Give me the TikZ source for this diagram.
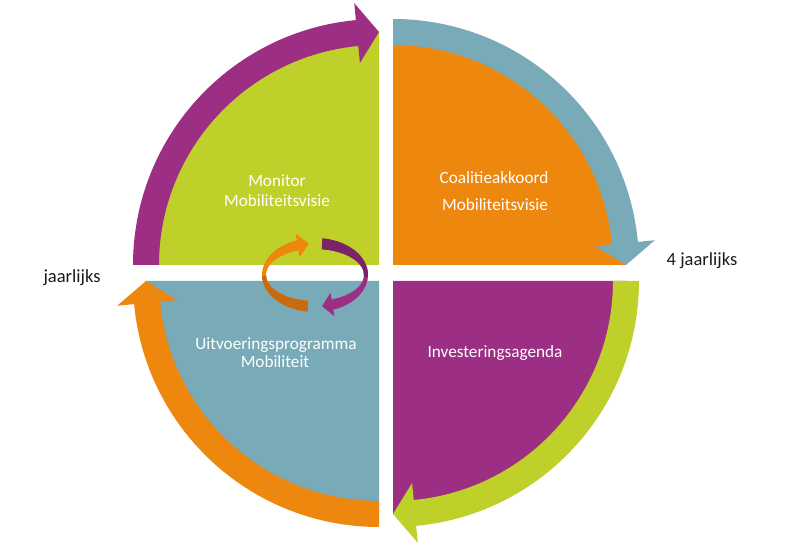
\documentclass[tikz,border=0pt]{standalone}
\usepackage{fontspec}
\setmainfont{Carlito}
\usetikzlibrary{calc}
\definecolor{cgreen}{HTML}{C0D02B}
\definecolor{corange}{HTML}{EE870E}
\definecolor{cteal}{HTML}{78AAB8}
\definecolor{cpurple}{HTML}{9C2E84}
\definecolor{cdorange}{HTML}{C66B10}
\definecolor{cdpurple}{HTML}{7A2468}
\definecolor{ctext}{HTML}{1A1A1A}
% ring arrow: #1 centre, #2 start angle, #3 head base angle, #4 tip angle, #5 colour
\newcommand{\ringarrow}[5]{%
  \fill[#5] ($(#1)+(#2:246)$) arc[start angle=#2,end angle=#3,radius=246]
    -- ($(#1)+(#3:263)$) -- ($(#1)+(#4:233)$) -- ($(#1)+(#3:203)$)
    -- ($(#1)+(#3:220)$) arc[start angle=#3,end angle=#2,radius=220] -- cycle;}
% small elliptic arrow: #1 centre, #2 start, #3 head base, #4 tip, #5 colour
\newcommand{\ellarrow}[5]{%
  \fill[#5] ($(#1)+(#2:53 and 37)$) arc[start angle=#2,end angle=#3,x radius=53,y radius=37]
    -- ($(#1)+(#3:57 and 44)$) -- ($(#1)+(#4:51 and 31.5)$) -- ($(#1)+(#3:45 and 19)$)
    -- ($(#1)+(#3:49 and 26)$) arc[start angle=#3,end angle=#2,x radius=49,y radius=26] -- cycle;}
\begin{document}
\begin{tikzpicture}[x=1pt,y=1pt,
  intext/.style={text=white,font=\fontsize{17.2}{20}\selectfont,anchor=base,inner sep=0pt},
  outtext/.style={text=ctext,font=\fontsize{18.5}{22}\selectfont,anchor=base,inner sep=0pt}]
\useasboundingbox (0,0) rectangle (796,553);
\coordinate (tl) at (379,288);
\coordinate (tr) at (393,288);
\coordinate (br) at (393,272);
\coordinate (bl) at (379,272);
% quadrants
\fill[cgreen]  (tl) -- ($(tl)+(180:233)$) arc[start angle=180,end angle=90,radius=233] -- cycle;
\fill[corange] (tr) -- ($(tr)+(90:233)$) arc[start angle=90,end angle=0,radius=233] -- cycle;
\fill[cpurple] (br) -- ($(br)+(0:233)$) arc[start angle=0,end angle=-90,radius=233] -- cycle;
\fill[cteal]   (bl) -- ($(bl)+(-90:233)$) arc[start angle=-90,end angle=-180,radius=233] -- cycle;
% outer arrows
\ringarrow{tl}{180}{95.4}{90}{cpurple}
\ringarrow{tr}{90}{5.4}{0}{cteal}
\ringarrow{br}{0}{-84.6}{-90}{cgreen}
\ringarrow{bl}{-90}{-174.6}{-180}{corange}
% centre arrows
\coordinate (cc) at (315,278);
\ellarrow{cc}{262}{110}{97}{corange}
\ellarrow{cc}{82}{-70}{-82}{cpurple}
\begin{scope}
  \clip (240,276) rectangle (390,220);
  \ellarrow{cc}{262}{110}{97}{cdorange}
\end{scope}
\begin{scope}
  \clip (240,276) rectangle (390,330);
  \ellarrow{cc}{82}{-70}{-82}{cdpurple}
\end{scope}
% texts
\node[intext] (mon1) at (277,366) {Monitor};
\node[intext] (mon2) at (277,346) {Mobiliteitsvisie};
\node[intext] (coa1) at (494,369) {Coalitieakkoord};
\node[intext] (coa2) at (495,342) {Mobiliteitsvisie};
\node[intext] (uit1) at (276,203) {Uitvoeringsprogramma};
\node[intext] (uit2) at (275,185) {Mobiliteit};
\node[intext] (inv)  at (495,195) {Investeringsagenda};
\node[outtext] (jl)  at (72,270) {jaarlijks};
\node[outtext] (vjl) at (702,287) {4 jaarlijks};
\end{tikzpicture}
\end{document}
